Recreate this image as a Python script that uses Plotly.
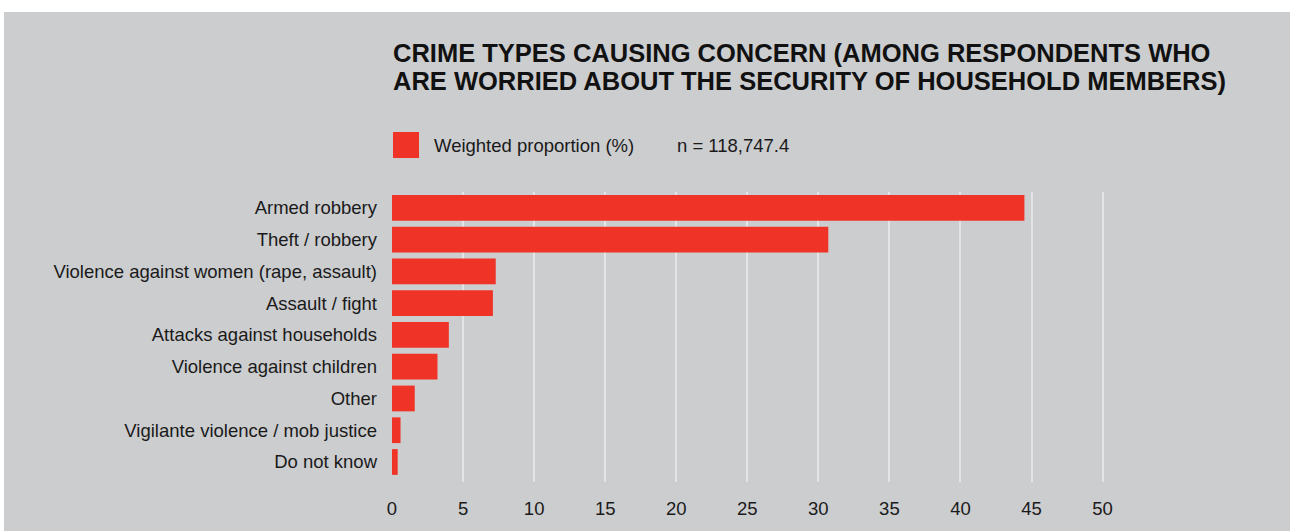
import plotly.graph_objects as go

# Crime types and weighted proportions (%)
categories = [
    "Armed robbery",
    "Theft / robbery",
    "Violence against women (rape, assault)",
    "Assault / fight",
    "Attacks against households",
    "Violence against children",
    "Other",
    "Vigilante violence / mob justice",
    "Do not know",
]
proportions = [44.5, 30.7, 7.3, 7.1, 4.0, 3.2, 1.6, 0.6, 0.4]
x_ticks = [0, 5, 10, 15, 20, 25, 30, 35, 40, 45, 50]

series_name = "Weighted proportion (%)"
sample_note = "n = 118,747.4"
title_lines = [
    "CRIME TYPES CAUSING CONCERN (AMONG RESPONDENTS WHO",
    "ARE WORRIED ABOUT THE SECURITY OF HOUSEHOLD MEMBERS)",
]

RED = "#f03327"
BG = "#cccdcf"
GRID = "#e3e4e5"
FONT = "Liberation Sans, Arial, Helvetica, sans-serif"
TXT = 18.5

W, H = 1290, 531
L, R, T, B = 392, 159, 192, 49
pw, ph = W - L - R, H - T - B


def px_x(px):
    return (px - L) / pw


def px_y(py):
    return (H - B - py) / ph


fig = go.Figure(
    go.Bar(
        x=proportions,
        y=categories,
        orientation="h",
        marker=dict(color=RED, line=dict(width=0)),
        name=series_name,
        showlegend=False,
        hoverinfo="x+y",
    )
)

shapes = [
    # grey panel behind the whole chart
    dict(type="rect", xref="paper", yref="paper",
         x0=px_x(4), x1=px_x(W + 2), y0=px_y(12), y1=px_y(H + 2),
         fillcolor=BG, line=dict(width=0), layer="below"),
    # legend swatch
    dict(type="rect", xref="paper", yref="paper",
         x0=px_x(393), x1=px_x(419), y0=px_y(132), y1=px_y(158),
         fillcolor=RED, line=dict(width=0)),
]

annotations = [
    dict(text=f"<b>{title_lines[0]}</b>", xref="paper", yref="paper",
         x=px_x(391), y=px_y(53), xanchor="left", yanchor="middle",
         showarrow=False, font=dict(family=FONT, size=25.5, color="#111111")),
    dict(text=f"<b>{title_lines[1]}</b>", xref="paper", yref="paper",
         x=px_x(391), y=px_y(81), xanchor="left", yanchor="middle",
         showarrow=False, font=dict(family=FONT, size=25.5, color="#111111")),
    dict(text=series_name, xref="paper", yref="paper",
         x=px_x(432), y=px_y(146), xanchor="left", yanchor="middle",
         showarrow=False, font=dict(family=FONT, size=TXT, color="#1a1a1a")),
    dict(text=sample_note, xref="paper", yref="paper",
         x=px_x(675), y=px_y(146), xanchor="left", yanchor="middle",
         showarrow=False, font=dict(family=FONT, size=TXT, color="#1a1a1a")),
]

fig.update_layout(
    width=W, height=H,
    margin=dict(l=L, r=R, t=T, b=B, pad=0),
    paper_bgcolor="white",
    plot_bgcolor="rgba(0,0,0,0)",
    bargap=0.19,
    shapes=shapes,
    annotations=annotations,
    font=dict(family=FONT, size=TXT, color="#1a1a1a"),
    xaxis=dict(
        range=[0, 52],
        tickmode="array", tickvals=x_ticks,
        showgrid=True, gridcolor=GRID, gridwidth=2,
        zeroline=False, showline=False, ticks="",
        ticklabelstandoff=13,
        tickfont=dict(family=FONT, size=TXT, color="#1a1a1a"),
        fixedrange=True,
    ),
    yaxis=dict(
        categoryorder="array", categoryarray=categories,
        range=[8.63, -0.5],
        showgrid=False, zeroline=False, showline=False, ticks="",
        ticklabelstandoff=14,
        tickfont=dict(family=FONT, size=TXT, color="#1a1a1a"),
        fixedrange=True,
    ),
)

fig.write_html("out.html")
